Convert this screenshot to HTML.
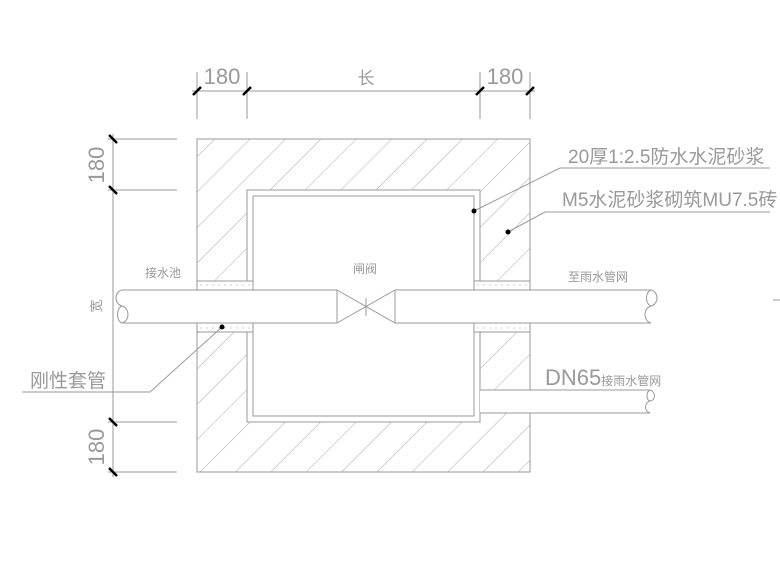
<!DOCTYPE html>
<html><head><meta charset="utf-8"><style>html,body{margin:0;padding:0;background:#fff}svg{display:block}</style></head>
<body>
<svg width="780" height="585" viewBox="0 0 780 585" xmlns="http://www.w3.org/2000/svg" font-family="Liberation Sans, Noto Sans CJK SC, sans-serif">
<defs>
<pattern id="h" patternUnits="userSpaceOnUse" width="25" height="25" patternTransform="rotate(45)">
<line x1="0" y1="0" x2="0" y2="25" stroke="#aaa" stroke-width="1"/>
</pattern>
<clipPath id="c"><path clip-rule="evenodd" d="M197 139H530V472H197Z M247 190H480V422H247Z"/></clipPath>
</defs>
<g stroke="#999" fill="none" stroke-width="1">
<rect x="197" y="139" width="333" height="333" fill="url(#h)" clip-path="url(#c)" stroke="none"/>
<rect x="197" y="139" width="333" height="333"/>
<rect x="247" y="190" width="233" height="232"/>
<rect x="253" y="196" width="221" height="220" fill="#fff"/>
<!-- mortar strips -->
<rect x="197" y="281" width="56" height="51" fill="#fff"/>
<rect x="474" y="281" width="56" height="51" fill="#fff"/>
<line x1="197" y1="290" x2="253" y2="290"/><line x1="197" y1="323" x2="253" y2="323"/>
<line x1="474" y1="290" x2="530" y2="290"/><line x1="474" y1="323" x2="530" y2="323"/>
<line x1="200" y1="285" x2="250" y2="285" stroke-dasharray="2 4" stroke="#ccc"/>
<line x1="477" y1="285" x2="527" y2="285" stroke-dasharray="2 4" stroke="#ccc"/>
<line x1="200" y1="328" x2="250" y2="328" stroke-dasharray="2 4" stroke="#ccc"/>
<line x1="477" y1="328" x2="527" y2="328" stroke-dasharray="2 4" stroke="#ccc"/>
<!-- main pipe -->
<rect x="120" y="290" width="533" height="33" fill="#fff" stroke="none"/>
<line x1="122" y1="290" x2="337" y2="290"/><line x1="122" y1="323" x2="337" y2="323"/>
<line x1="395" y1="290" x2="651" y2="290"/><line x1="395" y1="323" x2="651" y2="323"/>
<path d="M122 290 C114 292 114 304 122 306 C130 308 130 321 122 323"/>
<path d="M122 306 C116 308 116 321 122 323"/>
<path d="M651 290 C659 292 659 304 651 306 C643 308 643 321 651 323"/>
<path d="M651 290 C645 292 645 304 651 306"/>
<line x1="337" y1="290" x2="337" y2="323"/><line x1="395" y1="290" x2="395" y2="323"/>
<line x1="337" y1="290" x2="395" y2="323"/><line x1="337" y1="323" x2="395" y2="290"/>
<line x1="366" y1="298" x2="366" y2="316"/>
<!-- DN65 pipe -->
<rect x="480" y="390" width="172" height="23" fill="#fff" stroke="none"/>
<line x1="480" y1="390" x2="650" y2="390"/><line x1="480" y1="413" x2="650" y2="413"/>
<path d="M650 390 C656 392 656 400 650 401 C644 403 644 411 650 413"/>
<path d="M650 390 C646 392 646 400 650 401"/>
<!-- top dims -->
<line x1="192" y1="91" x2="535" y2="91"/>
<line x1="197" y1="72" x2="197" y2="119"/><line x1="247" y1="72" x2="247" y2="119"/>
<line x1="480" y1="72" x2="480" y2="119"/><line x1="530" y1="72" x2="530" y2="119"/>
<!-- left dims -->
<line x1="113" y1="134" x2="113" y2="477"/>
<line x1="108" y1="139" x2="177" y2="139"/><line x1="108" y1="190" x2="177" y2="190"/>
<line x1="108" y1="422" x2="177" y2="422"/><line x1="108" y1="472" x2="177" y2="472"/>
<!-- leaders -->
<polyline points="474,211 560,168 770,168"/>
<polyline points="508,232 545,212 770,212"/>
<polyline points="222,327 150,392 22,392"/>
<line x1="773" y1="300" x2="780" y2="300"/>
</g>
<g stroke="#000" stroke-width="2.5">
<line x1="193" y1="95" x2="201" y2="87"/><line x1="243" y1="95" x2="251" y2="87"/>
<line x1="476" y1="95" x2="484" y2="87"/><line x1="526" y1="95" x2="534" y2="87"/>
<line x1="109" y1="135" x2="117" y2="143"/><line x1="109" y1="186" x2="117" y2="194"/>
<line x1="109" y1="418" x2="117" y2="426"/><line x1="109" y1="468" x2="117" y2="476"/>
</g>
<g fill="#000"><circle cx="474" cy="211" r="2.5"/><circle cx="508" cy="232" r="2.5"/><circle cx="222" cy="327" r="2.5"/></g>
<g fill="#999" font-size="22">
<text x="222" y="84" text-anchor="middle">180</text>
<text x="366" y="84" text-anchor="middle" font-size="17">长</text>
<text x="505" y="84" text-anchor="middle">180</text>
<text transform="translate(104,165) rotate(-90)" text-anchor="middle">180</text>
<text transform="translate(104,447) rotate(-90)" text-anchor="middle">180</text>
<text transform="translate(101,306) rotate(-90)" text-anchor="middle" font-size="13">宽</text>
<text x="568" y="163" font-size="19">20厚1:2.5防水水泥砂浆</text>
<text x="562" y="206" font-size="19">M5水泥砂浆砌筑MU7.5砖</text>
<text x="30" y="387" font-size="19">刚性套管</text>
<text x="545" y="385">DN65<tspan font-size="12">接雨水管网</tspan></text>
<text x="163" y="277" font-size="12" text-anchor="middle">接水池</text>
<text x="365" y="273" font-size="12" text-anchor="middle">闸阀</text>
<text x="598" y="281" font-size="12" text-anchor="middle">至雨水管网</text>
</g>
</svg>
</body></html>
